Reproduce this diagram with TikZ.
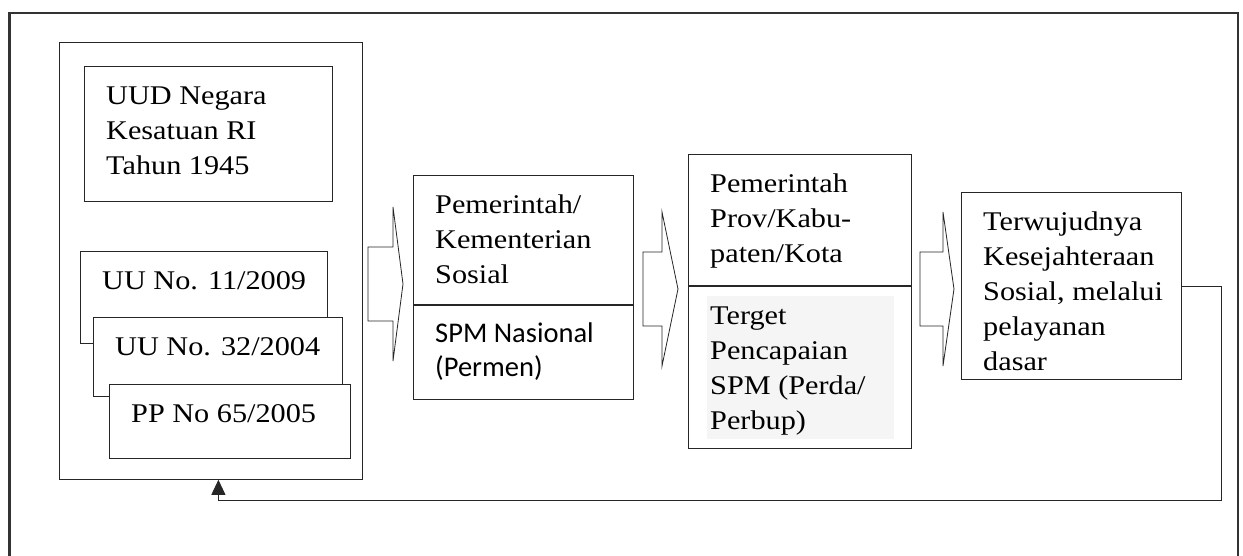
\documentclass[tikz,border=0pt]{standalone}
\usepackage{fontspec}
\setmainfont{Liberation Serif}[FakeStretch=1.12]
\newfontfamily\calibri{Carlito}
\usetikzlibrary{arrows.meta}
\tikzset{
    garis/.style={draw=black!85,line width=0.8pt},
    kotak/.style={garis,fill=white,anchor=north west,inner sep=0pt},
    teks/.style={anchor=north west,inner sep=0pt,align=left,font=\fontsize{27}{35}\selectfont},
    teksans/.style={teks,font=\calibri\fontsize{28.5}{34}\selectfont},
}
\begin{document}
\begin{tikzpicture}[x=1pt,y=-1pt,>={Triangle[width=14pt,length=15pt]}]
    \def\panah(#1,#2,#3,#4){\draw[garis] (#1,#4-37)--(#2,#4-37)--(#2,#4-77)--(#3,#4)
        --(#2,#4+77)--(#2,#4+37)--(#1,#4+37)--cycle;}
    \def\tulis[#1](#2)#3{\node[#1] (#2-t) at ([shift={(22,13.5)}]#2.north west) {\strut #3};}
    \useasboundingbox[fill=white] (0,0) rectangle (1243,555);
    \draw[line width=2.5pt,black!80] (9.5,560)--(9.5,13)--(1238,13)--(1238,560);
    %===========================================
    \node[kotak,minimum width=303pt,minimum height=437pt] (dasar) at (59,42) {};
    \node[kotak,minimum width=248pt,minimum height=135pt] (uud) at (84,66) {};
    \node[kotak,minimum width=247pt,minimum height=92pt] (uu11) at (80,251) {};
    \node[kotak,minimum width=249pt,minimum height=79pt] (uu32) at (93,317) {};
    \node[kotak,minimum width=241pt,minimum height=74pt] (pp) at (109,384) {};
    \tulis[teks](uud){UUD Negara\\Kesatuan RI\\Tahun 1945}
    \tulis[teks](uu11){UU No. 11/2009}
    \tulis[teks](uu32){UU No. 32/2004}
    \tulis[teks](pp){PP No 65/2005}
    %===========================================
    \node[kotak,minimum width=220pt,minimum height=129pt] (pem) at (413,175) {};
    \node[kotak,minimum width=220pt,minimum height=94pt] (spm) at (pem.south west) {};
    \tulis[teks](pem){Pemerintah/\\Kementerian\\Sosial}
    \tulis[teksans](spm){SPM Nasional\\(Permen)}
    %===========================================
    \node[kotak,minimum width=223pt,minimum height=131pt] (prov) at (688,154) {};
    \node[kotak,minimum width=223pt,minimum height=162pt] (target) at (prov.south west) {};
    \fill[black!4] ([shift={(19,10)}]target.north west) rectangle ([shift={(-18,-10)}]target.south east);
    \tulis[teks](prov){Pemerintah\\Prov/Kabu-\\paten/Kota}
    \tulis[teks](target){Terget\\Pencapaian\\SPM (Perda/\\Perbup)}
    %===========================================
    \node[kotak,minimum width=220pt,minimum height=187pt] (hasil) at (961,192) {};
    \tulis[teks](hasil){Terwujudnya\\Kesejahteraan\\Sosial, melalui\\pelayanan\\dasar}
    %===========================================
    \panah(368,393,403,284)
    \panah(643,662,678,289)
    \panah(920,943,954,289)
    \draw[garis,->] (hasil.east) -| (1221,500) -| ([xshift=7.5pt]dasar.south);
\end{tikzpicture}
\end{document}
